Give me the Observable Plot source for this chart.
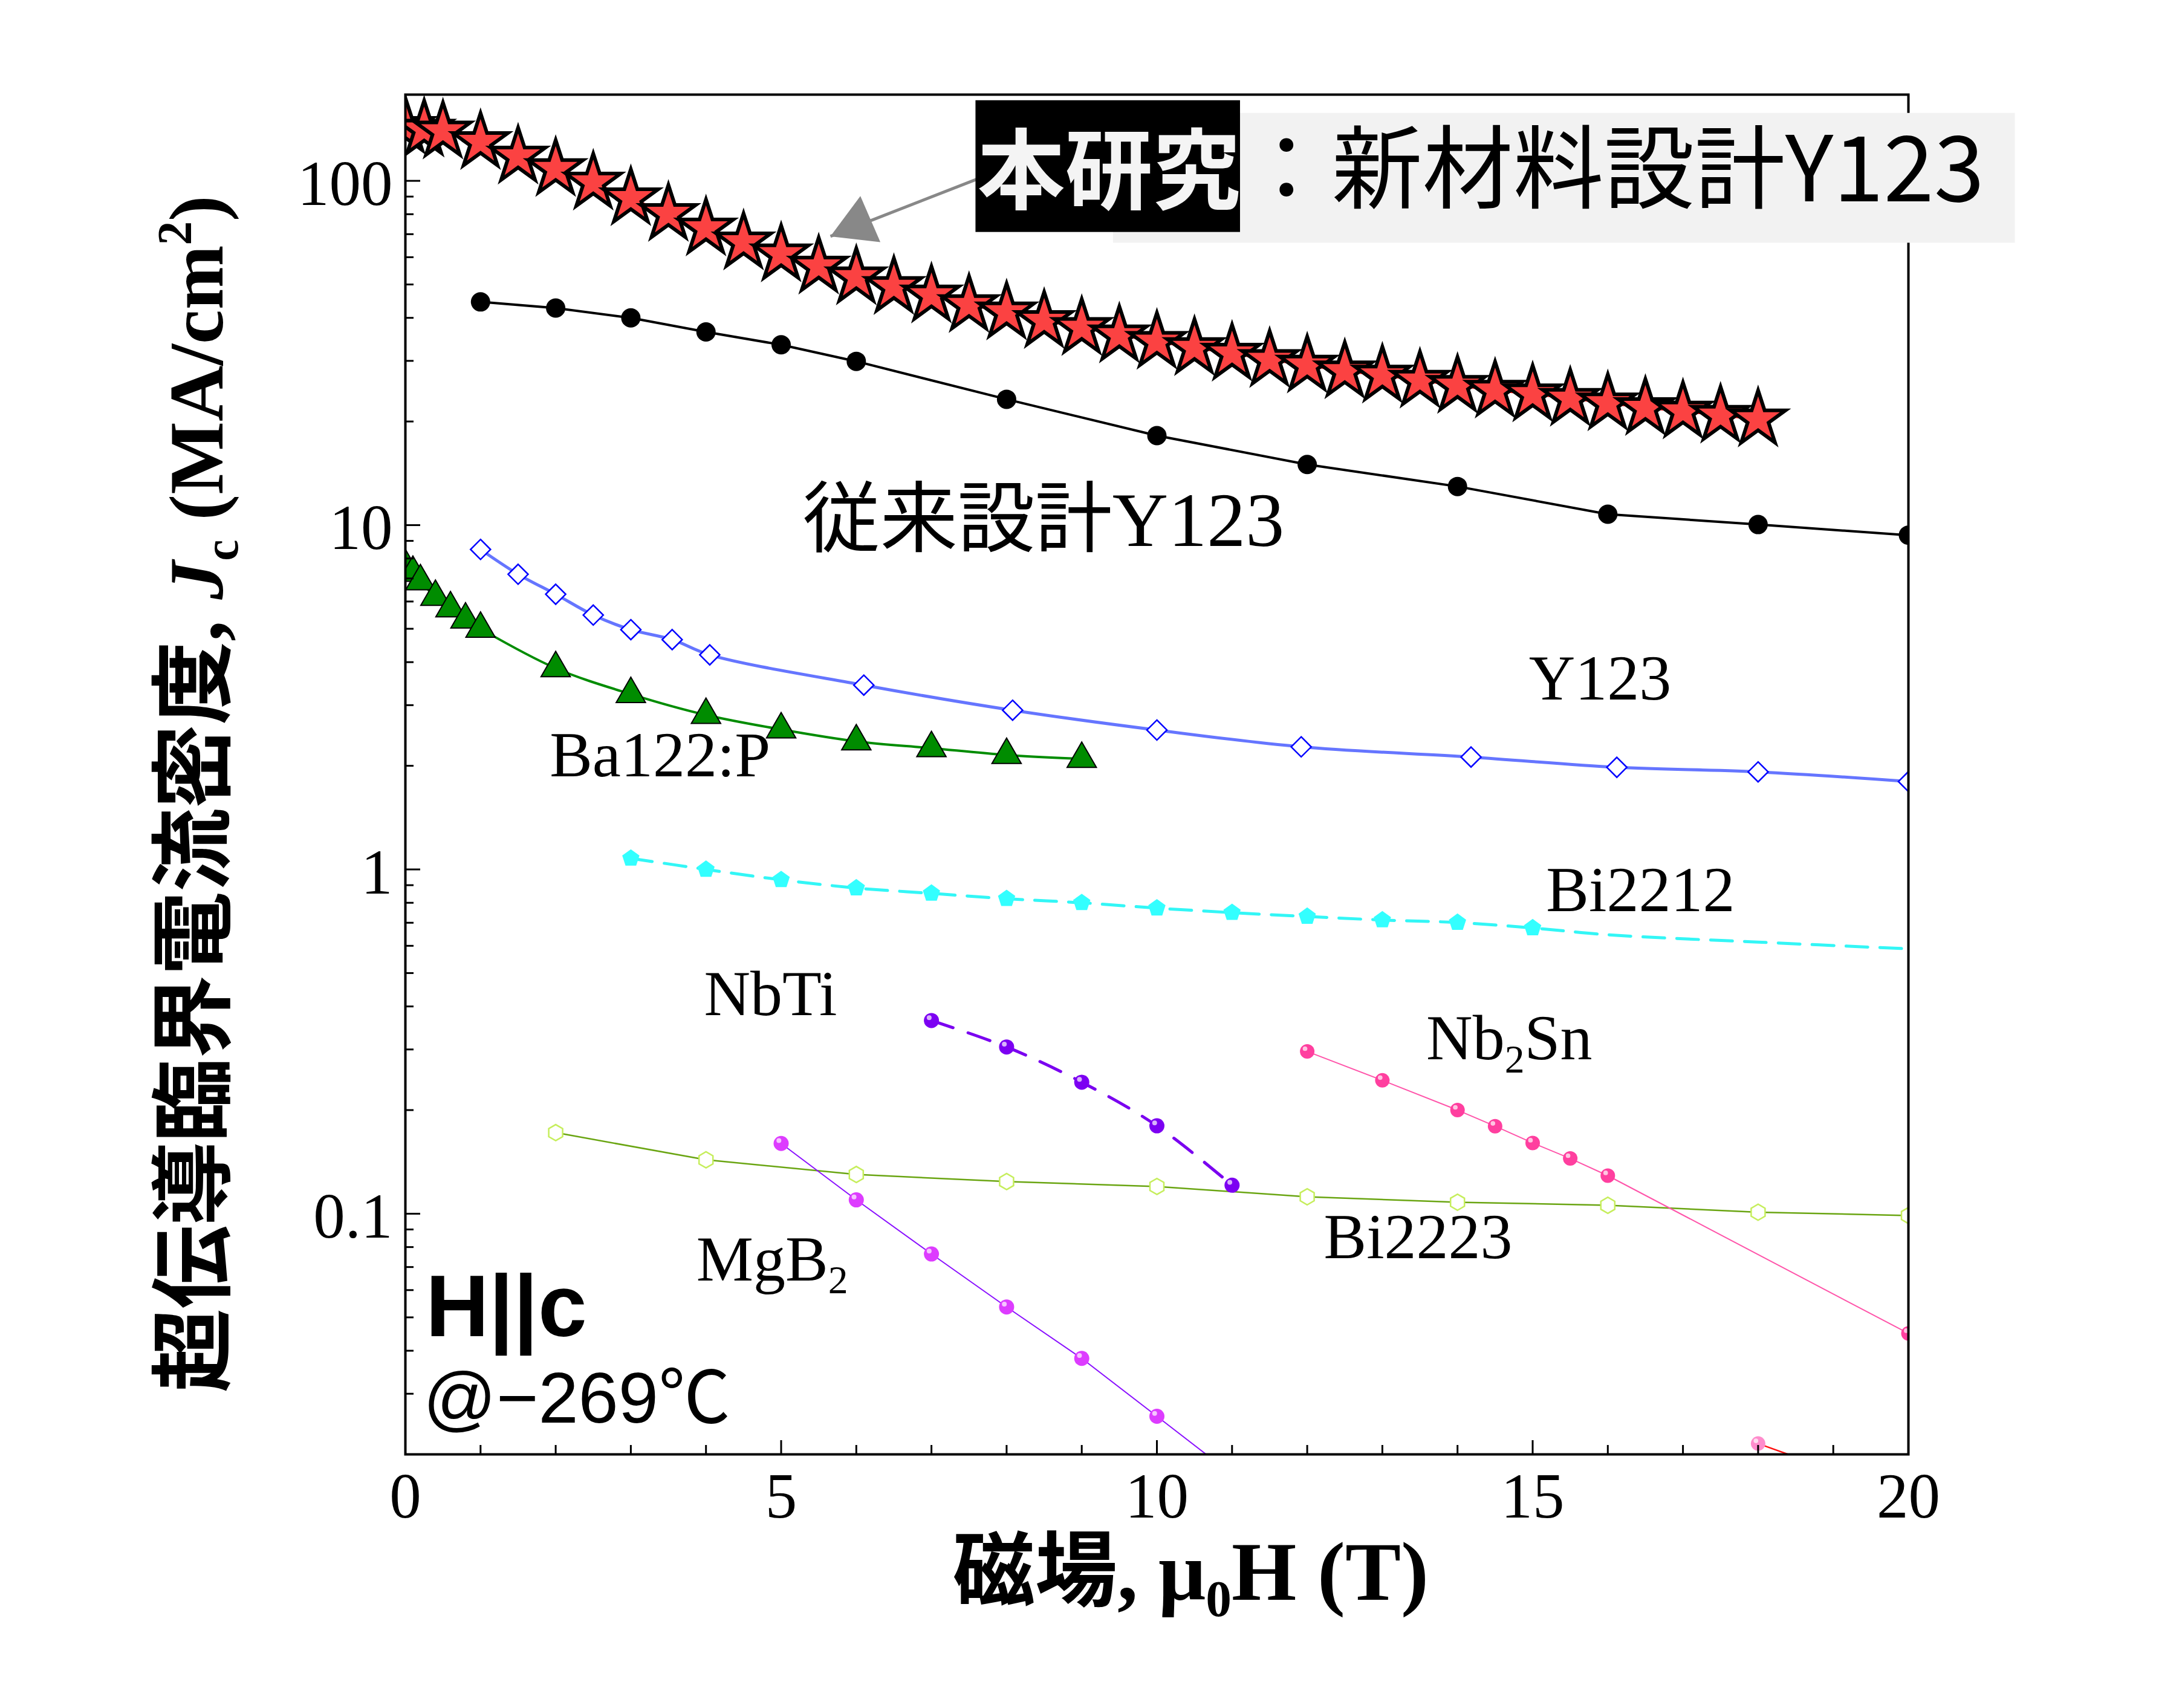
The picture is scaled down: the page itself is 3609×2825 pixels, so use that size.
<!DOCTYPE html>
<html><head><meta charset="utf-8">
<script src="https://cdn.jsdelivr.net/npm/d3@7"></script>
<script src="https://cdn.jsdelivr.net/npm/@observablehq/plot@0.6"></script>
<style>body{margin:0;background:#fff}</style>
</head><body>
<script>
// ---------- data ----------
const thisWorkH  = [0, 0.25, 0.5, 1, 1.5, 2, 2.5, 3, 3.5, 4, 4.5, 5, 5.5, 6, 6.5, 7, 7.5, 8, 8.5, 9, 9.5, 10, 10.5, 11, 11.5, 12, 12.5, 13, 13.5, 14, 14.5, 15, 15.5, 16, 16.5, 17, 17.5, 18];
const thisWorkJc = [143.5, 141, 139.2, 129.7, 117.7, 108.3, 98.9, 89.1, 80.2, 72.8, 66.3, 61.2, 56.4, 52.5, 49.2, 46.5, 43.6, 41.5, 39.2, 37.4, 35.6, 34.1, 32.7, 31.5, 30.2, 29.1, 28.0, 27.2, 26.3, 25.4, 24.6, 24.0, 23.3, 22.6, 21.9, 21.4, 20.8, 20.3];
const convH  = [1, 2, 3, 4, 5, 6, 8, 10, 12, 14, 16, 18, 20];
const convJc = [44.5, 42.7, 40.0, 36.4, 33.4, 29.9, 23.2, 18.2, 15.0, 12.95, 10.76, 10.04, 9.35];
const y123H  = [1, 1.5, 2, 2.5, 3, 3.55, 4.05, 6.1, 8.08, 10, 11.92, 14.18, 16.12, 18, 20];
const y123Jc = [8.5, 7.2, 6.3, 5.48, 4.97, 4.65, 4.2, 3.43, 2.9, 2.54, 2.27, 2.12, 1.98, 1.92, 1.80];
const ba122H  = [0, 0.1, 0.2, 0.4, 0.6, 0.8, 1, 2, 3, 4, 5, 6, 7, 8, 9];
const ba122Jc = [7.6, 7.27, 6.87, 6.19, 5.73, 5.32, 5.0, 3.84, 3.23, 2.81, 2.55, 2.355, 2.25, 2.15, 2.094];
const bi2212H  = [3, 4, 5, 6, 7, 8, 9, 10, 11, 12, 13, 14, 15];
const bi2212Jc = [1.077, 1.0, 0.933, 0.883, 0.852, 0.822, 0.80, 0.772, 0.749, 0.73, 0.713, 0.701, 0.676];
const bi2212TailH  = [16, 18, 20];
const bi2212TailJc = [0.646, 0.615, 0.588];
const nbtiH  = [7, 8, 9, 10, 11];
const nbtiJc = [0.364, 0.305, 0.241, 0.180, 0.121];
const nb3snH  = [12, 13, 14, 14.5, 15, 15.5, 16, 20];
const nb3snJc = [0.296, 0.244, 0.200, 0.1796, 0.1605, 0.1447, 0.129, 0.0449];
const nb3snBH  = [18, 20];
const nb3snBJc = [0.0215, 0.0150];
const mgb2H  = [5, 6, 7, 8, 9, 10, 11];
const mgb2Jc = [0.160, 0.1097, 0.0764, 0.0536, 0.0380, 0.0258, 0.0175];
const bi2223H  = [2, 4, 6, 8, 10, 12, 14, 16, 18, 20];
const bi2223Jc = [0.172, 0.1434, 0.130, 0.124, 0.120, 0.112, 0.108, 0.1058, 0.101, 0.0988];

const fieldTicks = [0, 5, 10, 15, 20];
const fieldTickLabels = ["0", "5", "10", "15", "20"];
const fieldMinor = [1, 2, 3, 4, 6, 7, 8, 9, 11, 12, 13, 14, 16, 17, 18, 19];
const jcTicks = [0.1, 1, 10, 100];
const jcTickLabels = ["0.1", "1", "10", "100"];
const jcMinor = [0.02, 0.03, 0.04, 0.05, 0.06, 0.07, 0.08, 0.09, 0.2, 0.3, 0.4, 0.5, 0.6, 0.7, 0.8, 0.9, 2, 3, 4, 5, 6, 7, 8, 9, 20, 30, 40, 50, 60, 70, 80, 90];

// annotation texts and their anchor points (data space)
const labelTexts = ["従来設計Y123", "Y123", "Ba122:P", "Bi2212", "NbTi", "Bi2223"];
const labelH  = [5.288, 14.95, 1.92, 15.18, 3.974, 12.22];
const labelJc = [8.716, 3.112, 1.867, 0.7566, 0.3768, 0.07425];
const labelSizes = [128, 106, 106, 106, 106, 106];
const richLabelSegs = [[["Mg"], ["B"], ["2", {sub: true}]], [["Nb"], ["2", {sub: true}], ["Sn"]]];
const richLabelH  = [3.871, 13.585];
const richLabelJc = [0.06403, 0.2804];
const yLabelSegs = [["超伝導臨界電流密度", {size: 138}], [", ", {size: 138}], ["J", {italic: true}], ["c", {sub: true}], [" (MA/cm"], ["2", {sup: true}], [")"]];
const xLabelSegs = [["磁場", {size: 136}], [", ", {size: 136}], ["μ"], ["0", {sub: true}], ["H (T)"]];

const zip = (xs, ys) => xs.map((x, i) => ({x, y: ys[i]}));
const thisWork = zip(thisWorkH, thisWorkJc);
const conv = zip(convH, convJc);
const y123 = zip(y123H, y123Jc);
const ba122 = zip(ba122H, ba122Jc);
const bi2212 = zip(bi2212H, bi2212Jc);
const bi2212Curve = bi2212.concat(zip(bi2212TailH, bi2212TailJc));
const nbti = zip(nbtiH, nbtiJc);
const nb3sn = zip(nb3snH, nb3snJc);
const nb3snB = zip(nb3snBH, nb3snBJc);
const mgb2 = zip(mgb2H, mgb2Jc);
const bi2223 = zip(bi2223H, bi2223Jc);

const pentagon = {
  draw(ctx, size) {
    const r = Math.sqrt(size / Math.PI);
    for (let i = 0; i < 5; i++) {
      const a = -Math.PI / 2 + i * 2 * Math.PI / 5;
      const px = r * Math.cos(a), py = r * Math.sin(a);
      if (i) ctx.lineTo(px, py); else ctx.moveTo(px, py);
    }
    ctx.closePath();
  }
};

function spheres(data, color, r) {
  return [
    Plot.dot(data, {x: "x", y: "y", r, fill: color, clip: true}),
    Plot.dot(data, {x: "x", y: "y", r: r * 0.32, fill: "white", fillOpacity: 0.7, dx: -r * 0.3, dy: -r * 0.38, clip: true})
  ];
}

const serif = "Liberation Serif, Noto Sans CJK JP";
const plain = segs => segs.map(s => s[0]).join("");

const svg = Plot.plot({
  width: 3609, height: 2825,
  marginLeft: 670, marginRight: 453, marginTop: 156, marginBottom: 420,
  style: {background: "white", color: "black", fontFamily: serif},
  x: {domain: [0, 20]},
  y: {type: "log", domain: [0.02, 178]},
  marks: [
    // Bi2223
    Plot.line(bi2223, {x: "x", y: "y", stroke: "#6aa512", strokeWidth: 2.5, clip: true}),
    Plot.dot(bi2223, {x: "x", y: "y", symbol: "hexagon", r: 11.5, stroke: "#c6ee5c", strokeWidth: 2.5, fill: "white", clip: true}),
    // MgB2
    Plot.line(mgb2, {x: "x", y: "y", stroke: "#8a10ff", strokeWidth: 2, clip: true}),
    spheres(mgb2, "#dd3cff", 12.5),
    // Nb3Sn
    Plot.line(nb3sn, {x: "x", y: "y", stroke: "#ff55aa", strokeWidth: 2, clip: true}),
    spheres(nb3sn, "#ff3f9f", 12),
    Plot.line(nb3snB, {x: "x", y: "y", stroke: "#ff1010", strokeWidth: 2.5, clip: true}),
    spheres(nb3snB, "#ff8ccc", 12),
    // NbTi
    Plot.line(nbti, {x: "x", y: "y", stroke: "#7a00f0", strokeWidth: 5, strokeDasharray: "38,26", curve: "catmull-rom", clip: true}),
    spheres(nbti, "#7c00f2", 12.5),
    // Bi2212
    Plot.line(bi2212Curve, {x: "x", y: "y", stroke: "#33f6f6", strokeWidth: 5, strokeDasharray: "36,20", curve: "catmull-rom", clip: true}),
    Plot.dot(bi2212, {x: "x", y: "y", symbol: pentagon, r: 15, fill: "#33ffff", clip: true}),
    // Ba122:P
    Plot.line(ba122, {x: "x", y: "y", stroke: "#008c00", strokeWidth: 4, curve: "catmull-rom", clip: true}),
    Plot.dot(ba122, {x: "x", y: "y", symbol: "triangle", r: 18, fill: "#008c00", stroke: "black", strokeWidth: 2, clip: true}),
    // Y123
    Plot.line(y123, {x: "x", y: "y", stroke: "#6575ff", strokeWidth: 5, curve: "catmull-rom", clip: true}),
    Plot.dot(y123, {x: "x", y: "y", symbol: "diamond2", r: 14.9, fill: "white", stroke: "#0000ff", strokeWidth: 2.5, clip: true}),
    // conventional Y123
    Plot.line(conv, {x: "x", y: "y", stroke: "black", strokeWidth: 4, clip: true}),
    Plot.dot(conv, {x: "x", y: "y", r: 16, fill: "black", clip: true}),
    // this work
    Plot.line(thisWork, {x: "x", y: "y", stroke: "#ff0000", strokeWidth: 3, clip: true}),
    Plot.dot(thisWork, {x: "x", y: "y", symbol: "star", r: 28.5, fill: "#fb4242", stroke: "black", strokeWidth: 6, clip: true}),

    // frame and axes
    Plot.frame({stroke: "black", strokeWidth: 4}),
    Plot.axisY({ticks: jcTicks, tickSize: -25, strokeWidth: 3, fill: "none"}),
    Plot.axisY({ticks: jcMinor, tickSize: -14, strokeWidth: 3, fill: "none"}),
    Plot.axisY({ticks: jcTicks, tickSize: 0, tickPadding: 21, fontSize: 105, fontFamily: "Liberation Serif", dy: 6,
      tickFormat: d => jcTickLabels[jcTicks.indexOf(d)], label: null}),
    Plot.axisX({ticks: fieldTicks, tickSize: -23, strokeWidth: 3, fill: "none"}),
    Plot.axisX({ticks: fieldMinor, tickSize: -15, strokeWidth: 3, fill: "none"}),
    Plot.axisX({ticks: fieldTicks, tickSize: 0, tickPadding: 30, fontSize: 105, fontFamily: "Liberation Serif",
      tickFormat: d => fieldTickLabels[fieldTicks.indexOf(d)], label: null}),

    // arrow to this-work data
    Plot.link([{x1: 7.8, y1: 105.1, x2: 5.656, y2: 69.0}], {x1: "x1", y1: "y1", x2: "x2", y2: "y2", stroke: "#888888", strokeWidth: 5}),
    Plot.dot([{x: 5.656, y: 69.0}], {x: "x", y: "y", symbol: "triangle", r: 30.9, fill: "#888888", rotate: 246.6, dx: 44, dy: -19}),

    // annotation boxes
    Plot.rect([{x1: 9.42, x2: 21.42, y1: 65.97, y2: 157.2}], {x1: "x1", x2: "x2", y1: "y1", y2: "y2", fill: "#f2f2f2"}),
    Plot.rect([{x1: 7.59, x2: 11.11, y1: 70.9, y2: 171.1}], {x1: "x1", x2: "x2", y1: "y1", y2: "y2", fill: "black"}),
    Plot.text(["本研究"], {x: [9.36], y: [86.6], text: d => d, textAnchor: "middle", lineAnchor: "bottom",
      fontFamily: "Noto Sans CJK JP", fontWeight: "bold", fontSize: 145, fill: "#f4f4f4"}),
    Plot.text(["：新材料設計Y123"], {x: [11.12], y: [87.3], text: d => d, textAnchor: "start", lineAnchor: "bottom",
      fontFamily: "Noto Sans CJK JP", fontSize: 150, fill: "black"}),

    // series labels
    Plot.text(labelTexts, {x: labelH, y: labelJc, text: d => d, textAnchor: "start", lineAnchor: "bottom",
      fontSize: (d, i) => labelSizes[i], fontFamily: serif, fill: "black"}),
    Plot.text(richLabelSegs, {x: richLabelH, y: richLabelJc, text: plain, textAnchor: "start", lineAnchor: "bottom",
      fontSize: 106, fontFamily: serif, fill: "black"}),
    Plot.text(["H||c"], {x: [0.27], y: [0.04405], text: d => d, textAnchor: "start", lineAnchor: "bottom",
      fontFamily: "Liberation Sans", fontWeight: "bold", fontSize: 145, fill: "black"}),
    Plot.text(["@−269℃"], {x: [0.238], y: [0.02477], text: d => d, textAnchor: "start", lineAnchor: "bottom",
      fontFamily: "Liberation Sans, Noto Sans CJK JP", fontSize: 119, fill: "black"}),

    // axis titles
    Plot.text([yLabelSegs], {frameAnchor: "left", text: plain, rotate: -90, dx: -303, dy: 32,
      textAnchor: "middle", lineAnchor: "bottom", fontSize: 128, fontWeight: "bold", fontFamily: serif, fill: "black"}),
    Plot.text([xLabelSegs], {frameAnchor: "bottom", text: plain, dx: 56, dy: 240,
      textAnchor: "middle", lineAnchor: "bottom", fontSize: 138, fontWeight: "bold", fontFamily: serif, fill: "black"})
  ]
});

// turn plain labels into rich text (sub/superscripts, italics)
function applyRich(root, segs, base) {
  const target = plain(segs);
  d3.select(root).selectAll("text").filter(function () { return this.textContent === target; }).each(function () {
    const el = d3.select(this);
    el.text(null);
    let shift = 0;
    for (const [t, o = {}] of segs) {
      const ts = el.append("tspan").text(t);
      const small = o.sub || o.sup;
      const size = o.size || (small ? base * 0.62 : base);
      const s = o.sub ? base * 0.2 : o.sup ? -base * 0.4 : 0;
      if (s !== shift) { ts.attr("dy", s - shift); shift = s; }
      ts.attr("font-size", size);
      if (o.italic) ts.attr("font-style", "italic");
    }
  });
}
richLabelSegs.forEach(segs => applyRich(svg, segs, 106));
applyRich(svg, yLabelSegs, 128);
applyRich(svg, xLabelSegs, 138);

document.body.append(svg);
</script>
</body></html>
